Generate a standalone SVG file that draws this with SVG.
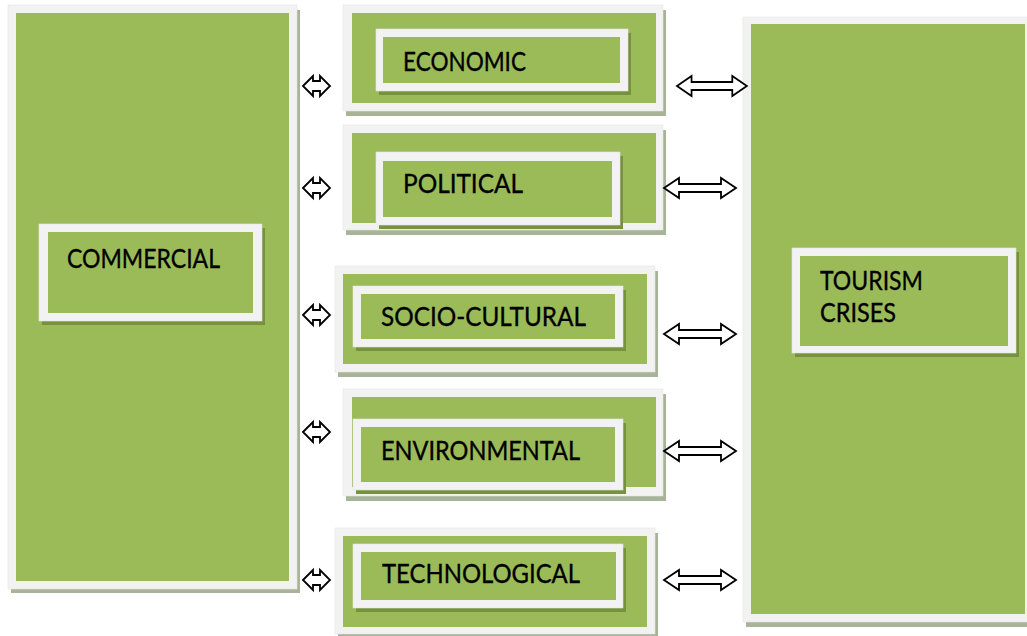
<svg xmlns="http://www.w3.org/2000/svg" width="1027" height="636" viewBox="0 0 1027 636">
<style>
.frame{fill:#f2f2f2;stroke:#e3e3e3;stroke-width:0.6}
.green{fill:#9bbb59}
.oshadow{fill:#a8b498}
.ishadow{fill:#76923c}
.lbl{font-family:Lato,"Open Sans","Liberation Sans",sans-serif;font-size:26.5px;fill:#000;stroke:#000;stroke-width:0.35}
.arrow{fill:#fff;stroke:#000;stroke-width:1.8;stroke-linejoin:miter}
</style>
<defs>
<path id="small" d="M0,0 L10,-10 L10,-5 L17,-5 L17,-10 L27,0 L17,10 L17,5 L10,5 L10,10 Z"/>
<path id="big" d="M0,0 L15,-10 L15,-4 L57,-4 L57,-10 L72,0 L57,10 L57,4 L15,4 L15,10 Z"/>
</defs>
<rect width="1027" height="636" fill="#fff"/>

<g id="commercial">
<rect class="oshadow" x="11" y="10" width="289" height="583"/>
<rect class="frame" x="8" y="5" width="289" height="584"/>
<rect class="green" x="16" y="13" width="273" height="568"/>
<rect class="ishadow" x="42" y="228" width="223" height="97"/>
<rect class="frame" x="39" y="224" width="223" height="97"/>
<rect class="green" x="48" y="232" width="205" height="81"/>
<text class="lbl" x="67" y="268" textLength="153" lengthAdjust="spacingAndGlyphs">COMMERCIAL</text>
</g>

<g id="economic">
<rect class="oshadow" x="346" y="10" width="320" height="106"/>
<rect class="frame" x="343" y="5" width="320" height="106"/>
<rect class="green" x="352" y="13" width="304" height="90"/>
<rect class="ishadow" x="379" y="33" width="252" height="62"/>
<rect class="frame" x="376" y="29" width="252" height="62"/>
<rect class="green" x="383" y="37" width="237" height="46"/>
<text class="lbl" x="403" y="71" textLength="123" lengthAdjust="spacingAndGlyphs">ECONOMIC</text>
</g>

<g id="political">
<rect class="oshadow" x="346" y="130" width="320" height="105"/>
<rect class="frame" x="343" y="125" width="320" height="105"/>
<rect class="green" x="352" y="133" width="304" height="90"/>
<rect class="ishadow" x="379" y="156" width="244" height="73"/>
<rect class="frame" x="376" y="152" width="244" height="73"/>
<rect class="green" x="383" y="161" width="229" height="56"/>
<text class="lbl" x="403" y="193" textLength="120" lengthAdjust="spacingAndGlyphs">POLITICAL</text>
</g>

<g id="socio-cultural">
<rect class="oshadow" x="338" y="271" width="320" height="106"/>
<rect class="frame" x="335" y="266" width="320" height="106"/>
<rect class="green" x="343" y="274" width="304" height="90"/>
<rect class="ishadow" x="356" y="290" width="270" height="61"/>
<rect class="frame" x="353" y="286" width="270" height="61"/>
<rect class="green" x="361" y="294" width="254" height="45"/>
<text class="lbl" x="381" y="326" textLength="205" lengthAdjust="spacingAndGlyphs">SOCIO-CULTURAL</text>
</g>

<g id="environmental">
<rect class="oshadow" x="346" y="394" width="320" height="107"/>
<rect class="frame" x="343" y="389" width="320" height="107"/>
<rect class="green" x="352" y="397" width="304" height="90"/>
<rect class="ishadow" x="356" y="423" width="270" height="71"/>
<rect class="frame" x="353" y="419" width="270" height="71"/>
<rect class="green" x="361" y="427" width="254" height="55"/>
<text class="lbl" x="381" y="460" textLength="199" lengthAdjust="spacingAndGlyphs">ENVIRONMENTAL</text>
</g>

<g id="technological">
<rect class="oshadow" x="338" y="533" width="320" height="106"/>
<rect class="frame" x="335" y="528" width="320" height="106"/>
<rect class="green" x="343" y="536" width="304" height="91"/>
<rect class="ishadow" x="356" y="548" width="270" height="64"/>
<rect class="frame" x="353" y="544" width="270" height="64"/>
<rect class="green" x="361" y="552" width="255" height="48"/>
<text class="lbl" x="382" y="583" textLength="198" lengthAdjust="spacingAndGlyphs">TECHNOLOGICAL</text>
</g>

<g id="tourism-crises">
<rect class="oshadow" x="746" y="22" width="290" height="605"/>
<rect class="frame" x="743" y="17" width="290" height="605"/>
<rect class="green" x="751" y="24" width="274" height="590"/>
<rect class="ishadow" x="795" y="252" width="224" height="105"/>
<rect class="frame" x="792" y="248" width="224" height="105"/>
<rect class="green" x="800" y="256" width="208" height="90"/>
<text class="lbl" x="820" y="290" textLength="103" lengthAdjust="spacingAndGlyphs">TOURISM</text>
<text class="lbl" x="820" y="322" textLength="76" lengthAdjust="spacingAndGlyphs">CRISES</text>
</g>

<g id="connectors">
<use href="#small" class="arrow" transform="translate(303,86)"/>
<use href="#small" class="arrow" transform="translate(303,188)"/>
<use href="#small" class="arrow" transform="translate(303,315)"/>
<use href="#small" class="arrow" transform="translate(303,432)"/>
<use href="#small" class="arrow" transform="translate(303,580)"/>
<use href="#big" class="arrow" transform="translate(677,86) scale(0.97,1)"/>
<use href="#big" class="arrow" transform="translate(664,188)"/>
<use href="#big" class="arrow" transform="translate(664,334)"/>
<use href="#big" class="arrow" transform="translate(664,451)"/>
<use href="#big" class="arrow" transform="translate(664,580)"/>
</g>
</svg>
